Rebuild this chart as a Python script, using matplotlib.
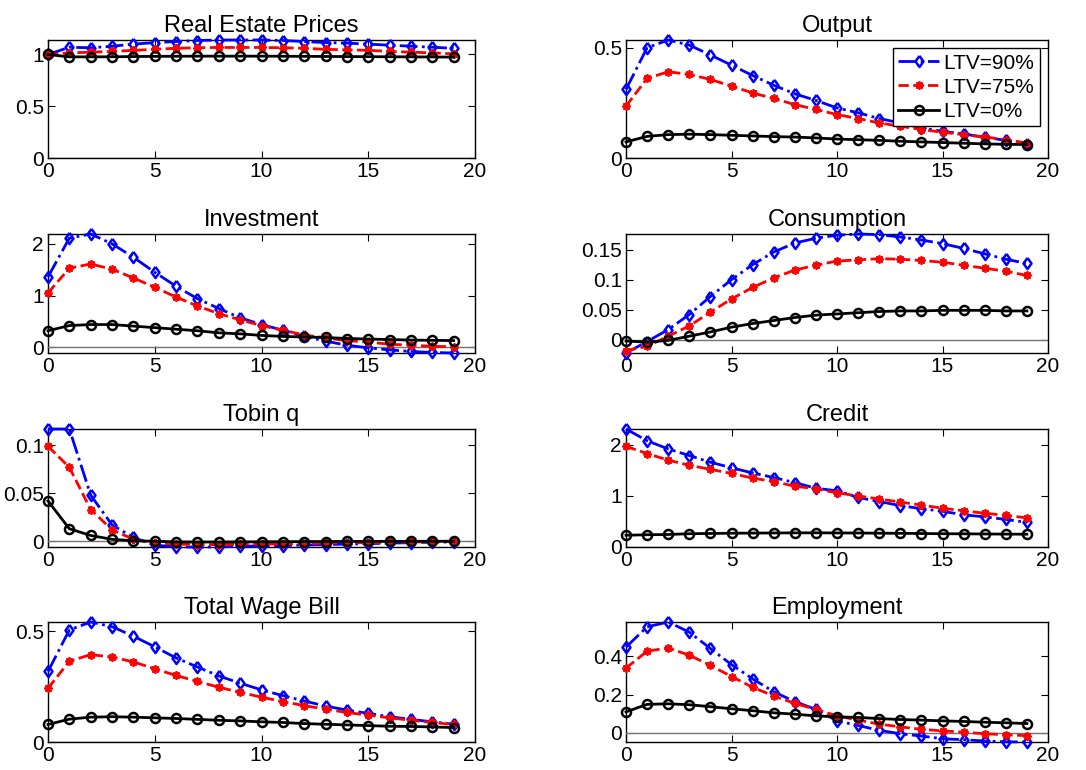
import numpy as np
import matplotlib.pyplot as plt
from matplotlib.ticker import FormatStrFormatter

plt.rcParams['font.family'] = ['Liberation Sans', 'DejaVu Sans']

periods = np.arange(20)
labels = ['LTV=90%', 'LTV=75%', 'LTV=0%']

# impulse responses, one list per LTV case
house_90 = [1.0, 1.07, 1.065, 1.08, 1.10, 1.115, 1.125, 1.135, 1.14, 1.14, 1.14, 1.135, 1.125, 1.115, 1.11, 1.10, 1.09, 1.08, 1.07, 1.06]
house_75 = [1.0, 1.016, 1.022, 1.03, 1.04, 1.05, 1.06, 1.065, 1.068, 1.068, 1.068, 1.065, 1.06, 1.05, 1.045, 1.04, 1.03, 1.022, 1.016, 1.006]
house_0 = [1.0, 0.977, 0.977, 0.978, 0.98, 0.982, 0.983, 0.984, 0.984, 0.984, 0.984, 0.983, 0.982, 0.981, 0.98, 0.979, 0.978, 0.977, 0.976, 0.975]

output_90 = [0.311, 0.50, 0.535, 0.512, 0.467, 0.421, 0.374, 0.330, 0.291, 0.261, 0.227, 0.205, 0.179, 0.159, 0.136, 0.121, 0.109, 0.094, 0.080, 0.065]
output_75 = [0.235, 0.361, 0.391, 0.379, 0.356, 0.326, 0.295, 0.270, 0.242, 0.220, 0.197, 0.179, 0.159, 0.144, 0.129, 0.117, 0.106, 0.095, 0.083, 0.068]
output_0 = [0.073, 0.098, 0.106, 0.108, 0.106, 0.103, 0.100, 0.097, 0.095, 0.091, 0.086, 0.083, 0.080, 0.076, 0.073, 0.070, 0.067, 0.064, 0.062, 0.061]

invest_90 = [1.36, 2.11, 2.19, 2.0, 1.74, 1.45, 1.18, 0.94, 0.75, 0.57, 0.44, 0.33, 0.21, 0.12, 0.04, -0.01, -0.05, -0.08, -0.10, -0.11]
invest_75 = [1.05, 1.53, 1.61, 1.51, 1.34, 1.16, 0.97, 0.80, 0.65, 0.53, 0.42, 0.33, 0.24, 0.18, 0.13, 0.10, 0.06, 0.04, 0.02, 0.01]
invest_0 = [0.32, 0.42, 0.44, 0.44, 0.41, 0.38, 0.35, 0.32, 0.28, 0.26, 0.23, 0.21, 0.20, 0.19, 0.17, 0.16, 0.15, 0.14, 0.135, 0.13]

cons_90 = [-0.022, -0.003, 0.017, 0.042, 0.072, 0.100, 0.125, 0.146, 0.161, 0.169, 0.174, 0.176, 0.175, 0.171, 0.166, 0.160, 0.152, 0.143, 0.134, 0.127]
cons_75 = [-0.018, -0.011, 0.006, 0.023, 0.046, 0.068, 0.087, 0.103, 0.116, 0.124, 0.131, 0.133, 0.135, 0.134, 0.132, 0.129, 0.124, 0.119, 0.114, 0.107]
cons_0 = [-0.002, -0.004, -0.001, 0.006, 0.013, 0.021, 0.027, 0.032, 0.037, 0.041, 0.043, 0.045, 0.047, 0.048, 0.048, 0.049, 0.049, 0.049, 0.048, 0.048]

tobin_90 = [0.117, 0.117, 0.048, 0.017, 0.004, -0.004, -0.006, -0.006, -0.006, -0.005, -0.005, -0.0045, -0.004, -0.0035, -0.003, -0.0025, -0.002, -0.0015, -0.001, -0.0007]
tobin_75 = [0.099, 0.077, 0.033, 0.012, 0.002, -0.002, -0.003, -0.0035, -0.0035, -0.003, -0.003, -0.0028, -0.0025, -0.002, -0.0018, -0.0015, -0.001, -0.0008, -0.0005, -0.0004]
tobin_0 = [0.042, 0.013, 0.006, 0.002, 0.0005, 0.0, -0.0007, -0.0008, -0.0008, -0.0007, -0.0006, -0.0005, -0.0004, -0.0003, -0.0002, -0.0002, -0.0001, -0.0001, 0.0, 0.0]

credit_90 = [2.31, 2.08, 1.92, 1.79, 1.66, 1.55, 1.45, 1.36, 1.26, 1.15, 1.10, 0.97, 0.89, 0.81, 0.75, 0.70, 0.63, 0.59, 0.54, 0.48]
credit_75 = [1.97, 1.83, 1.70, 1.60, 1.52, 1.44, 1.35, 1.28, 1.19, 1.14, 1.06, 1.0, 0.94, 0.88, 0.82, 0.76, 0.71, 0.66, 0.62, 0.57]
credit_0 = [0.23, 0.24, 0.245, 0.26, 0.265, 0.27, 0.272, 0.275, 0.277, 0.278, 0.275, 0.274, 0.27, 0.268, 0.264, 0.26, 0.258, 0.255, 0.252, 0.25]

wage_90 = [0.318, 0.505, 0.541, 0.520, 0.477, 0.429, 0.379, 0.338, 0.298, 0.265, 0.235, 0.209, 0.185, 0.162, 0.144, 0.129, 0.114, 0.102, 0.091, 0.080]
wage_75 = [0.242, 0.364, 0.394, 0.383, 0.361, 0.330, 0.300, 0.273, 0.247, 0.224, 0.202, 0.182, 0.164, 0.148, 0.133, 0.121, 0.109, 0.098, 0.088, 0.079]
wage_0 = [0.079, 0.103, 0.112, 0.114, 0.112, 0.109, 0.106, 0.102, 0.098, 0.095, 0.091, 0.088, 0.083, 0.080, 0.077, 0.074, 0.071, 0.070, 0.068, 0.065]

employ_90 = [0.447, 0.553, 0.578, 0.525, 0.440, 0.356, 0.282, 0.215, 0.163, 0.123, 0.063, 0.039, 0.014, -0.004, -0.016, -0.030, -0.035, -0.042, -0.046, -0.047]
employ_75 = [0.338, 0.426, 0.443, 0.405, 0.352, 0.294, 0.238, 0.193, 0.154, 0.123, 0.089, 0.067, 0.046, 0.032, 0.019, 0.011, 0.004, -0.004, -0.009, -0.014]
employ_0 = [0.110, 0.149, 0.152, 0.147, 0.137, 0.126, 0.116, 0.105, 0.098, 0.089, 0.084, 0.081, 0.075, 0.070, 0.067, 0.063, 0.060, 0.056, 0.053, 0.049]

titles = ['Real Estate Prices', 'Output', 'Investment', 'Consumption',
          'Tobin q', 'Credit', 'Total Wage Bill', 'Employment']
series = [(house_90, house_75, house_0), (output_90, output_75, output_0),
          (invest_90, invest_75, invest_0), (cons_90, cons_75, cons_0),
          (tobin_90, tobin_75, tobin_0), (credit_90, credit_75, credit_0),
          (wage_90, wage_75, wage_0), (employ_90, employ_75, employ_0)]
yticks = [[0, 0.5, 1], [0, 0.5], [0, 1, 2], [0, 0.05, 0.1, 0.15],
          [0, 0.05, 0.1], [0, 1, 2], [0, 0.5], [0, 0.2, 0.4]]

fig = plt.figure(figsize=(10.86, 7.7), dpi=100)

# axes boxes in pixels (left, top, right, bottom)
cols = [(48, 475), (626, 1048)]
rows = [(40, 158), (234, 353), (429, 547), (622, 742)]

# matlab-like marker shapes
diamond = [(0, 1), (0.72, 0), (0, -1), (-0.72, 0), (0, 1)]
asterisk = (8, 2, 0)
styles = [dict(color='blue', ls='-.', marker=diamond, mfc='none', ms=8, mew=1.8),
          dict(color='red', ls='--', marker=asterisk, ms=6, mew=1.3),
          dict(color='black', ls='-', marker='o', mfc='none', ms=6.5, mew=1.8)]

for i, title in enumerate(titles):
    l, r = cols[i % 2]
    t, b = rows[i // 2]
    ax = fig.add_axes([l / 1086, 1 - b / 770, (r - l) / 1086, (b - t) / 770])
    ax.axhline(0, color='0.45', lw=1)
    for y, st, lab in zip(series[i], styles, labels):
        ax.plot(periods, y, lw=2, label=lab, clip_on=False, **st)
    lo = min(0, min(min(s) for s in series[i]))
    hi = max(max(s) for s in series[i])
    ax.set_ylim(lo, hi)
    ax.set_xlim(0, 20)
    ax.set_xticks([0, 5, 10, 15, 20])
    ax.set_yticks(yticks[i])
    ax.yaxis.set_major_formatter(FormatStrFormatter('%g'))
    ax.tick_params(direction='in', top=True, right=True, length=5, labelsize=15, pad=3)
    ax.set_title(title, fontsize=17, pad=6)
    for sp in ax.spines.values():
        sp.set_linewidth(1)
        sp.set_zorder(1)
    if title == 'Output':
        leg = ax.legend(loc='upper right', fontsize=15, handlelength=2.0,
                        handletextpad=0.2, borderaxespad=0.4, labelspacing=0.25,
                        borderpad=0.25, fancybox=False, edgecolor='black', framealpha=1)
        leg.get_frame().set_linewidth(1)
        leg.set_zorder(5)

fig.savefig('out.png', dpi=100)
